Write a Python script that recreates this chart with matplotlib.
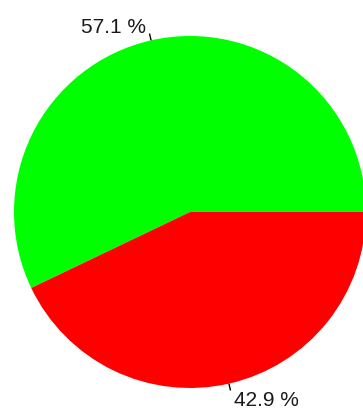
import matplotlib
matplotlib.use('Agg')
import matplotlib.pyplot as plt
import numpy as np

labels = ['57.1 %', '42.9 %']
values = [57.1, 42.9]
colors = ['#00ff00', '#ff0000']

W, H = 363, 415
fig = plt.figure(figsize=(W / 100, H / 100), dpi=100)
ax = fig.add_axes([0, 0, 1, 1])

cx, cy, r = 190, H - 212, 176
wedges, _ = ax.pie(values, colors=colors, startangle=0, counterclock=True,
                   center=(cx, cy), radius=r, frame=True,
                   wedgeprops=dict(linewidth=0))
ax.set_xlim(0, W)
ax.set_ylim(0, H)
ax.set_aspect('equal')
ax.axis('off')

# leader ticks + labels
offsets = [(-4, 6, 'right', 'center'), (4, -10, 'left', 'center')]
for w, lab, (ox, oy, ha, va) in zip(wedges, labels, offsets):
    mid = np.deg2rad((w.theta1 + w.theta2) / 2)
    x0, y0 = cx + r * np.cos(mid), cy + r * np.sin(mid)
    x1, y1 = cx + (r + 7) * np.cos(mid), cy + (r + 7) * np.sin(mid)
    ax.plot([x0, x1], [y0, y1], color='black', lw=1, solid_capstyle='butt')
    ax.text(x1 + ox, y1 + oy, lab, ha=ha, va=va, fontsize=15,
            family='Liberation Sans', color='#1a1a1a')

fig.savefig('out.png', dpi=100)
